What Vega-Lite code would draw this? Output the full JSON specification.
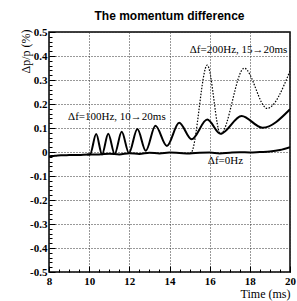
{
  "$schema": "https://vega.github.io/schema/vega-lite/v6.json",
  "width": 241,
  "height": 240,
  "autosize": {"type": "none"},
  "padding": {"left": 49, "top": 32, "right": 7, "bottom": 29},
  "background": "white",
  "config": {
    "view": {"stroke": "black", "strokeWidth": 1.5},
    "axis": {"domain": false}
  },
  "title": {
    "text": "The momentum difference",
    "font": "Liberation Sans",
    "fontSize": 12,
    "fontWeight": "bold",
    "anchor": "middle",
    "offset": 3,
    "color": "black"
  },
  "datasets": {
    "curves": [
      {"series": "0Hz", "t": 8.0, "v": -0.02},
      {"series": "0Hz", "t": 8.1, "v": -0.017},
      {"series": "0Hz", "t": 8.3, "v": -0.016},
      {"series": "0Hz", "t": 8.6, "v": -0.014},
      {"series": "0Hz", "t": 9.0, "v": -0.013},
      {"series": "0Hz", "t": 9.5, "v": -0.012},
      {"series": "0Hz", "t": 10.0, "v": -0.01},
      {"series": "0Hz", "t": 10.5, "v": -0.01},
      {"series": "0Hz", "t": 11.0, "v": -0.007},
      {"series": "0Hz", "t": 11.5, "v": -0.01},
      {"series": "0Hz", "t": 12.0, "v": -0.005},
      {"series": "0Hz", "t": 12.5, "v": -0.008},
      {"series": "0Hz", "t": 13.0, "v": -0.003},
      {"series": "0Hz", "t": 13.5, "v": -0.006},
      {"series": "0Hz", "t": 14.0, "v": -0.002},
      {"series": "0Hz", "t": 14.5, "v": -0.004},
      {"series": "0Hz", "t": 15.0, "v": -0.006},
      {"series": "0Hz", "t": 15.5, "v": -0.003},
      {"series": "0Hz", "t": 16.0, "v": -0.002},
      {"series": "0Hz", "t": 16.5, "v": -0.006},
      {"series": "0Hz", "t": 17.0, "v": -0.003},
      {"series": "0Hz", "t": 17.5, "v": -0.001},
      {"series": "0Hz", "t": 18.0, "v": -0.002},
      {"series": "0Hz", "t": 18.5, "v": 0.0},
      {"series": "0Hz", "t": 19.0, "v": 0.002},
      {"series": "0Hz", "t": 19.5, "v": 0.008},
      {"series": "0Hz", "t": 20.0, "v": 0.02},
      {"series": "100Hz", "t": 9.9, "v": -0.01},
      {"series": "100Hz", "t": 10.04, "v": -0.01},
      {"series": "100Hz", "t": 10.35, "v": 0.075},
      {"series": "100Hz", "t": 10.64, "v": -0.01},
      {"series": "100Hz", "t": 10.95, "v": 0.076},
      {"series": "100Hz", "t": 11.27, "v": -0.008},
      {"series": "100Hz", "t": 11.62, "v": 0.084},
      {"series": "100Hz", "t": 11.98, "v": -0.004},
      {"series": "100Hz", "t": 12.4, "v": 0.096},
      {"series": "100Hz", "t": 12.82, "v": 0.005},
      {"series": "100Hz", "t": 13.3, "v": 0.109},
      {"series": "100Hz", "t": 13.87, "v": 0.025},
      {"series": "100Hz", "t": 14.48, "v": 0.122},
      {"series": "100Hz", "t": 15.1, "v": 0.053},
      {"series": "100Hz", "t": 15.88, "v": 0.135},
      {"series": "100Hz", "t": 16.54, "v": 0.076},
      {"series": "100Hz", "t": 17.59, "v": 0.15},
      {"series": "100Hz", "t": 18.63, "v": 0.101},
      {"series": "100Hz", "t": 20.0, "v": 0.178},
      {"series": "200Hz", "t": 15.0, "v": -0.005},
      {"series": "200Hz", "t": 15.1, "v": 0.0},
      {"series": "200Hz", "t": 15.88, "v": 0.362},
      {"series": "200Hz", "t": 16.54, "v": 0.075},
      {"series": "200Hz", "t": 17.72, "v": 0.349},
      {"series": "200Hz", "t": 18.86, "v": 0.182},
      {"series": "200Hz", "t": 20.0, "v": 0.338}
    ],
    "labels": [
      {"t": 15.01, "v": 0.427, "label": "Δf=200Hz, 15→20ms"},
      {"t": 8.95, "v": 0.146, "label": "Δf=100Hz, 10→20ms"},
      {"t": 15.91, "v": -0.0375, "label": "Δf=0Hz"}
    ]
  },
  "resolve": {"axis": {"x": "independent", "y": "independent"}},
  "layer": [
    {
      "data": {"name": "curves"},
      "transform": [{"filter": "datum.series !== '200Hz'"}],
      "mark": {"type": "line", "interpolate": "monotone", "color": "black", "strokeWidth": 2, "clip": true},
      "encoding": {
        "x": {
          "field": "t", "type": "quantitative",
          "scale": {"domain": [8, 20], "nice": false, "zero": false},
          "axis": {
            "orient": "bottom",
            "values": [8, 10, 12, 14, 16, 18, 20],
            "title": "Time (ms)",
            "titleFont": "Liberation Serif",
            "titleFontSize": 12,
            "titleFontWeight": "normal",
            "titleColor": "black",
            "titleAnchor": "end",
            "titleAlign": "right",
            "titleBaseline": "middle",
            "titleX": 241,
            "titleY": 21,
            "labelFont": "Liberation Serif",
            "labelFontWeight": "bold",
            "labelFontSize": 11,
            "labelColor": "black",
            "labelFlush": false,
            "labelOverlap": false,
            "labelPadding": 9,
            "labelBaseline": "top",
            "tickColor": "black",
            "tickSize": -6,
            "tickWidth": 1,
            "grid": true,
            "gridColor": "#333",
            "gridDash": [1, 2]
          }
        },
        "y": {
          "field": "v", "type": "quantitative",
          "scale": {"domain": [-0.5, 0.5], "nice": false, "zero": false},
          "axis": {
            "orient": "left",
            "values": [-0.5, -0.4, -0.3, -0.2, -0.1, 0, 0.1, 0.2, 0.3, 0.4, 0.5],
            "title": "Δp/p (%)",
            "titleFont": "Liberation Serif",
            "titleFontSize": 12,
            "titleFontWeight": "normal",
            "titleColor": "black",
            "titleAngle": -90,
            "titleAlign": "right",
            "titleBaseline": "middle",
            "titleX": -24,
            "titleY": -3,
            "format": ".1~f",
            "labelExpr": "replace(datum.label, '−', '-')",
            "labelFont": "Liberation Serif",
            "labelFontWeight": "bold",
            "labelFontSize": 11,
            "labelColor": "black",
            "labelFlush": false,
            "labelOverlap": false,
            "labelPadding": 8,
            "labelBaseline": "middle",
            "tickColor": "black",
            "tickSize": -6,
            "tickWidth": 1,
            "grid": true,
            "gridColor": "#333",
            "gridDash": [1, 2]
          }
        },
        "detail": {"field": "series"}
      }
    },
    {
      "data": {"name": "curves"},
      "transform": [{"filter": "datum.series === '200Hz'"}],
      "mark": {"type": "line", "interpolate": "monotone", "color": "black", "strokeWidth": 1.2, "strokeDash": [1.5, 1.5], "clip": true},
      "encoding": {
        "x": {
          "field": "t", "type": "quantitative",
          "axis": {
            "orient": "bottom",
            "values": [8.5, 9, 9.5, 10.5, 11, 11.5, 12.5, 13, 13.5, 14.5, 15, 15.5, 16.5, 17, 17.5, 18.5, 19, 19.5],
            "title": null, "labels": false, "grid": false,
            "tickColor": "black", "tickSize": -3, "tickWidth": 1
          }
        },
        "y": {
          "field": "v", "type": "quantitative",
          "axis": {
            "orient": "left",
            "values": [-0.48, -0.46, -0.44, -0.42, -0.38, -0.36, -0.34, -0.32, -0.28, -0.26, -0.24, -0.22, -0.18, -0.16, -0.14, -0.12, -0.08, -0.06, -0.04, -0.02, 0.02, 0.04, 0.06, 0.08, 0.12, 0.14, 0.16, 0.18, 0.22, 0.24, 0.26, 0.28, 0.32, 0.34, 0.36, 0.38, 0.42, 0.44, 0.46, 0.48],
            "title": null, "labels": false, "grid": false,
            "tickColor": "black", "tickSize": -3, "tickWidth": 1
          }
        }
      }
    },
    {
      "data": {"name": "labels"},
      "mark": {"type": "text", "align": "left", "baseline": "middle", "font": "Liberation Serif", "fontSize": 11, "color": "black"},
      "encoding": {
        "x": {"field": "t", "type": "quantitative", "axis": null},
        "y": {"field": "v", "type": "quantitative", "axis": null},
        "text": {"field": "label"}
      }
    }
  ]
}
